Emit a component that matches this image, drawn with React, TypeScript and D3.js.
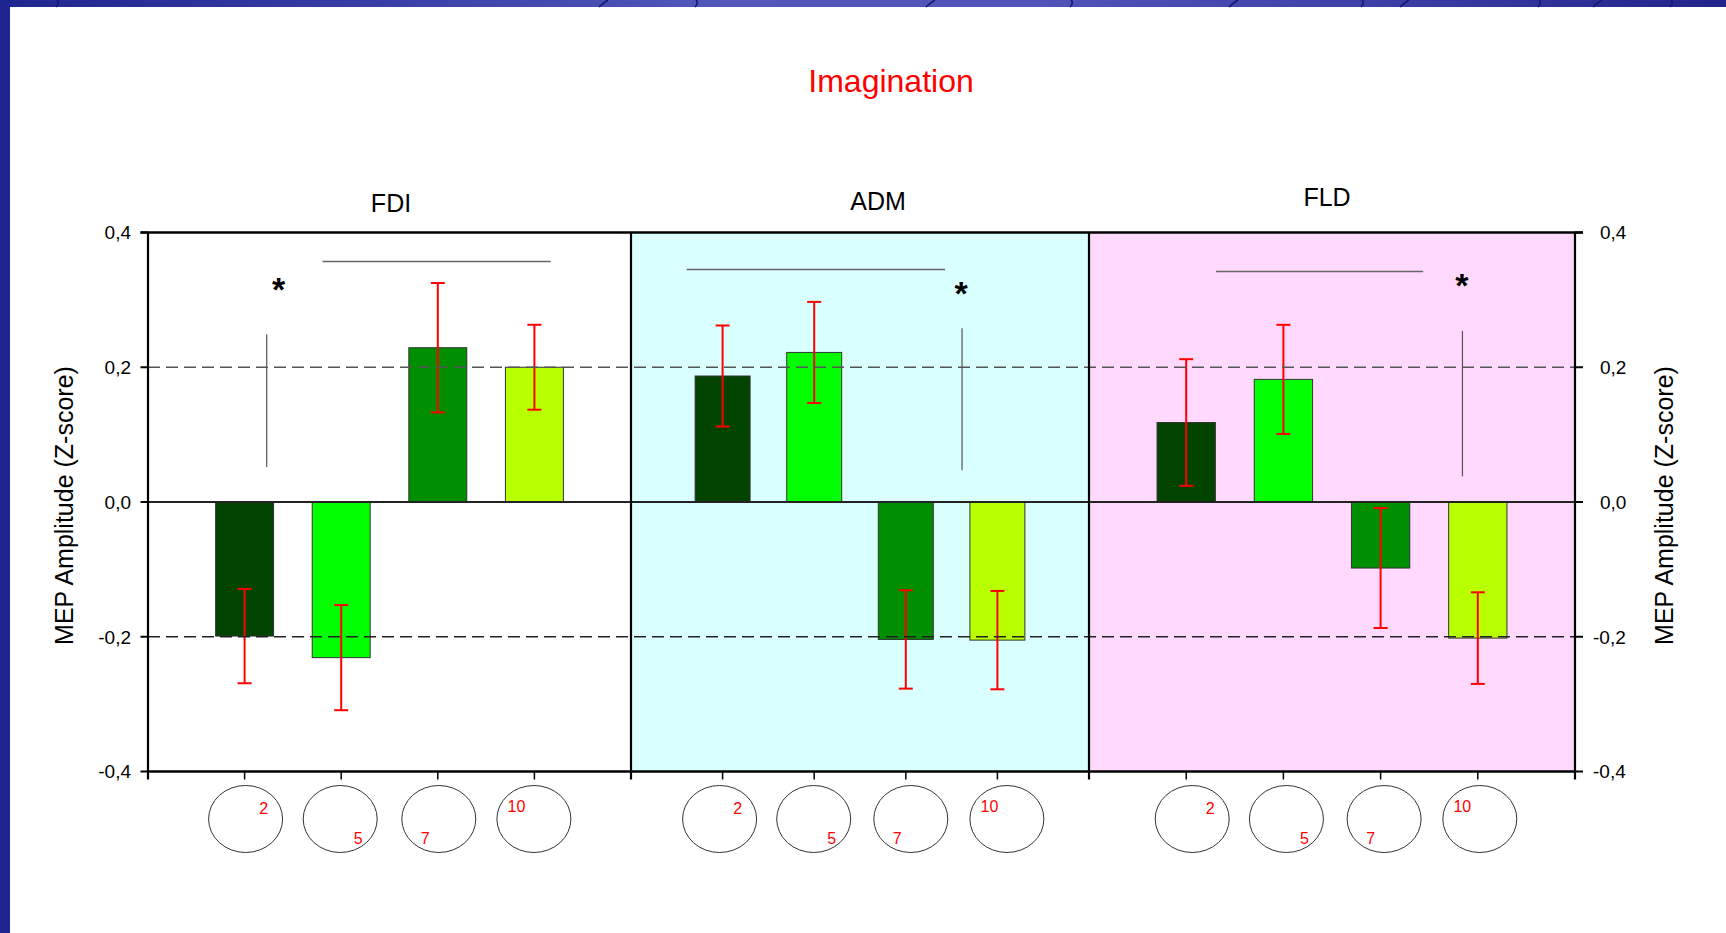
import React from "react";
import * as d3 from "d3";

// Muscles (panels) and stimulation sites (categories)
const muscles = ["FDI", "ADM", "FLD"];
const electrodes = ["2", "5", "7", "10"];

// Mean MEP amplitude (Z-score) and standard error per electrode
const fdiMeans = [-0.199, -0.231, 0.229, 0.2];
const fdiErrors = [0.07, 0.078, 0.096, 0.063];
const admMeans = [0.187, 0.222, -0.204, -0.205];
const admErrors = [0.075, 0.075, 0.073, 0.073];
const fldMeans = [0.118, 0.182, -0.098, -0.202];
const fldErrors = [0.094, 0.081, 0.089, 0.068];

const yTicks = [-0.4, -0.2, 0, 0.2, 0.4];
const yTickLabels = ["-0,4", "-0,2", "0,0", "0,2", "0,4"];
const referenceLevels = [0.2, -0.2];

// Significance marks, in category units (0..5) and Z-score values
const bracketSpans = [
  [1.806, 4.168, 0.357],
  [0.608, 3.428, 0.345],
  [1.307, 3.438, 0.342],
];
const contrastLines = [
  [1.229, 0.249, 0.052],
  [3.614, 0.258, 0.047],
  [3.842, 0.254, 0.038],
];
const starMarks = [
  [1.353, 0.326],
  [3.603, 0.321],
  [3.837, 0.332],
];

const seriesMeans = [fdiMeans, admMeans, fldMeans];
const seriesErrors = [fdiErrors, admErrors, fldErrors];

// Layout
const W = 1726;
const H = 933;
const plotTop = 232.5;
const plotBottom = 771.5;
const panelEdges = [148, 631, 1089, 1575];
const panelFills = ["#ffffff", "#d9ffff", "#ffd9fd"];
const titleShift = [1.5, 18, -5];
const titleBaselines = [212, 210, 206];
const headShift = [
  [1, -1, 1, -0.5],
  [-3, -0.5, 5, 9.5],
  [6, 3, 3.5, 2],
];
const barColors = ["#004400", "#00ff00", "#008f00", "#b8ff00"];
const labelOffsets = [
  [18, -5.5],
  [18, 24.5],
  [-13.5, 24.5],
  [-17.5, -7],
];
const font = "'Liberation Sans', Arial, sans-serif";

const y = d3.scaleLinear().domain([-0.4, 0.4]).range([plotBottom, plotTop]);

function Panel({ index }: { index: number }) {
  const x0 = panelEdges[index];
  const x1 = panelEdges[index + 1];
  const x = d3.scaleLinear().domain([0, 5]).range([x0, x1]);
  const step = x(1) - x(0);
  const barW = step * 0.6;
  const means = seriesMeans[index];
  const errs = seriesErrors[index];
  const [bx1, bx2, by] = bracketSpans[index];
  const [vx, vy1, vy2] = contrastLines[index];
  const [sx, sy] = starMarks[index];
  const cap = 7;
  return (
    <g>
      <rect x={x0} y={plotTop} width={x1 - x0} height={plotBottom - plotTop} fill={panelFills[index]} />
      <text
        x={(x0 + x1) / 2 + titleShift[index]}
        y={titleBaselines[index]}
        textAnchor="middle"
        fontFamily={font}
        fontSize={25}
        fill="#000"
      >
        {muscles[index]}
      </text>
      {electrodes.map((e, i) => {
        const cx = x(i + 1);
        const v = means[i];
        return (
          <rect
            key={"b" + e}
            x={cx - barW / 2}
            y={Math.min(y(v), y(0))}
            width={barW}
            height={Math.abs(y(v) - y(0))}
            fill={barColors[i]}
            stroke="#333"
            strokeWidth={1}
          />
        );
      })}
      {electrodes.map((e, i) => {
        const cx = x(i + 1);
        const hi = y(means[i] + errs[i]);
        const lo = y(means[i] - errs[i]);
        return (
          <g key={"e" + e} stroke="#ff0000" strokeWidth={2}>
            <line x1={cx} x2={cx} y1={hi} y2={lo} />
            <line x1={cx - cap} x2={cx + cap} y1={hi} y2={hi} />
            <line x1={cx - cap} x2={cx + cap} y1={lo} y2={lo} />
          </g>
        );
      })}
      <line x1={x(bx1)} x2={x(bx2)} y1={y(by)} y2={y(by)} stroke="#666" strokeWidth={1.5} />
      <line x1={x(vx)} x2={x(vx)} y1={y(vy1)} y2={y(vy2)} stroke="#555" strokeWidth={1.2} />
      <text
        x={x(sx)}
        y={y(sy) + 19}
        textAnchor="middle"
        fontFamily={font}
        fontWeight="bold"
        fontSize={34}
        fill="#000"
      >
        *
      </text>
      {electrodes.map((e, i) => {
        const cx = x(i + 1) + headShift[index][i];
        const cy = 819;
        return (
          <g key={"h" + e}>
            <ellipse cx={cx} cy={cy} rx={37} ry={33.5} fill="#fff" stroke="#333" strokeWidth={1} />
            <text
              x={cx + labelOffsets[i][0]}
              y={cy + labelOffsets[i][1]}
              textAnchor="middle"
              fontFamily={font}
              fontSize={16}
              fill="#ff0000"
            >
              {e}
            </text>
          </g>
        );
      })}
      {electrodes.map((e, i) => (
        <line
          key={"t" + e}
          x1={x(i + 1)}
          x2={x(i + 1)}
          y1={plotBottom}
          y2={plotBottom + 8}
          stroke="#000"
          strokeWidth={1.5}
        />
      ))}
    </g>
  );
}

export default function App() {
  const left = panelEdges[0];
  const right = panelEdges[3];
  const bandMarks = [60, 603, 699, 930, 1074, 1233, 1365, 1404, 1542, 1597, 1674];
  return (
    <svg
      width={W}
      height={H}
      style={{ position: "absolute", left: 0, top: 0, display: "block" }}
      viewBox={`0 0 ${W} ${H}`}
    >
      <defs>
        <linearGradient id="band" x1="0" x2="1" y1="0" y2="0">
          <stop offset="0" stopColor="#1e2690" />
          <stop offset="0.2" stopColor="#353ca4" />
          <stop offset="0.42" stopColor="#5158ba" />
          <stop offset="0.6" stopColor="#4f55b8" />
          <stop offset="0.8" stopColor="#3a40a6" />
          <stop offset="1" stopColor="#1e248a" />
        </linearGradient>
      </defs>
      <rect x={0} y={0} width={W} height={H} fill="#fff" />
      <rect x={0} y={0} width={W} height={7} fill="url(#band)" />
      {bandMarks.map((bx, i) => (
        <path
          key={"m" + i}
          d={`M${bx - 4},7 Q${bx},3 ${bx + (i % 2 ? 5 : -3)},0`}
          stroke="#121a6e"
          strokeWidth={1.6}
          fill="none"
        />
      ))}
      <rect x={0} y={0} width={10} height={H} fill="#1c2590" />

      <text x={891} y={92} textAnchor="middle" fontFamily={font} fontSize={32} fill="#ff0000">
        Imagination
      </text>

      {[0, 1, 2].map((i) => (
        <Panel key={i} index={i} />
      ))}

      {/* reference levels */}
      {referenceLevels.map((v, i) => (
        <line
          key={"r" + v}
          x1={left}
          x2={right}
          y1={y(v)}
          y2={y(v)}
          stroke={i === 0 ? "#555" : "#222"}
          strokeWidth={1.3}
          strokeDasharray="12,6"
        />
      ))}

      {/* zero line */}
      <line x1={left} x2={right + 8} y1={y(0)} y2={y(0)} stroke="#222" strokeWidth={1.8} />

      {/* frame */}
      <line x1={left - 7.5} x2={right + 8} y1={plotTop} y2={plotTop} stroke="#000" strokeWidth={2.5} />
      <line x1={left} x2={right} y1={plotBottom} y2={plotBottom} stroke="#000" strokeWidth={2.5} />
      {panelEdges.map((px, i) => (
        <line
          key={"p" + i}
          x1={px}
          x2={px}
          y1={plotTop}
          y2={plotBottom + 8}
          stroke="#000"
          strokeWidth={2.2}
        />
      ))}

      {/* y ticks and labels on both sides */}
      {yTicks.map((t, i) => (
        <g key={"y" + t}>
          <line x1={left - 7.5} x2={left} y1={y(t)} y2={y(t)} stroke="#000" strokeWidth={2} />
          <line x1={right} x2={right + 8} y1={y(t)} y2={y(t)} stroke="#000" strokeWidth={2} />
          <text
            x={131}
            y={y(t)}
            dy="0.36em"
            textAnchor="end"
            fontFamily={font}
            fontSize={19}
            fill="#000"
          >
            {yTickLabels[i]}
          </text>
          <text
            x={t < 0 ? 1593 : 1600}
            y={y(t)}
            dy="0.36em"
            textAnchor="start"
            fontFamily={font}
            fontSize={19}
            fill="#000"
          >
            {yTickLabels[i]}
          </text>
        </g>
      ))}

      <text
        transform={`translate(73,505.5) rotate(-90)`}
        textAnchor="middle"
        fontFamily={font}
        fontSize={25}
        fill="#000"
      >
        MEP Amplitude (Z-score)
      </text>
      <text
        transform={`translate(1673,505.5) rotate(-90)`}
        textAnchor="middle"
        fontFamily={font}
        fontSize={25}
        fill="#000"
      >
        MEP Amplitude (Z-score)
      </text>
    </svg>
  );
}
